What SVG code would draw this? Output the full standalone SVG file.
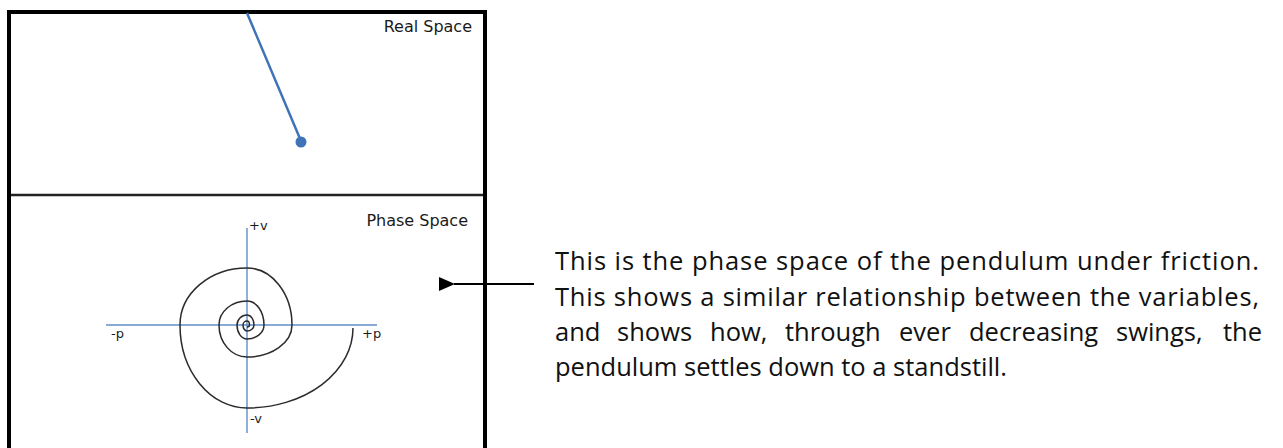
<svg xmlns="http://www.w3.org/2000/svg" width="1283" height="448" viewBox="0 0 1283 448">
<style>
.lbl{font-family:"DejaVu Sans",Verdana,sans-serif;font-size:16px;fill:#1a1a1a}
.ax{font-family:"DejaVu Sans",Verdana,sans-serif;font-size:13px;fill:#1a1a1a}
.body{font-family:"Open Sans","Noto Sans",sans-serif;font-size:25.5px;fill:#111}
.axis{stroke:#5f8fc6;stroke-width:1.4;fill:none}
</style>
<defs>
<marker id="ah" markerWidth="16" markerHeight="14" refX="1" refY="7" orient="auto" markerUnits="userSpaceOnUse">
<path d="M16,0 L0,7 L16,14 Z" fill="#000"/>
</marker>
</defs>
<rect width="1283" height="448" fill="#fff"/>
<g id="frame">
<rect x="9" y="12" width="476" height="460" fill="none" stroke="#000" stroke-width="4"/>
<line x1="11" y1="195" x2="483" y2="195" stroke="#222" stroke-width="2.5"/>
</g>
<g id="real-space">
<line x1="247" y1="13" x2="301" y2="141" stroke="#3f73b8" stroke-width="2.5"/>
<circle cx="301" cy="142" r="5.5" fill="#3f73b8"/>
<text class="lbl" x="472" y="32" text-anchor="end">Real Space</text>
</g>
<g id="phase-space">
<text class="lbl" x="468" y="226" text-anchor="end">Phase Space</text>
<line class="axis" x1="247" y1="228" x2="247" y2="433"/>
<line class="axis" x1="106" y1="325" x2="377" y2="325"/>
<text class="ax" x="249" y="230">+v</text>
<text class="ax" x="111" y="338">-p</text>
<text class="ax" x="362" y="338">+p</text>
<text class="ax" x="250" y="423">-v</text>
<path d="M353 328 A106 80 0 0 1 247 408 A67 83 0 0 1 180 325 A67 57 0 0 1 247 268 A45 57 0 0 1 292 325 A45 32 0 0 1 247 357 A28 32 0 0 1 219 325 A28 24 0 0 1 247 301 A17 24 0 0 1 264 325 A17 14 0 0 1 247 339 A10 14 0 0 1 237 325 A10 10 0 0 1 247 315 A7 10 0 0 1 254 325 A7 6 0 0 1 247 331 A4 6 0 0 1 243 325 A4 4 0 0 1 247 321 A2.5 4 0 0 1 249.5 325 A2.5 2 0 0 1 247 327" fill="none" stroke="#2b2b2b" stroke-width="1.5"/>
</g>
<g id="connectors">
<line x1="534" y1="284" x2="454" y2="284" stroke="#000" stroke-width="2" marker-end="url(#ah)"/>
</g>
<g id="caption">
<text class="body" x="555" y="270" textLength="704" lengthAdjust="spacing">This is the phase space of the pendulum under friction.</text>
<text class="body" x="555" y="305.5" textLength="704" lengthAdjust="spacing">This shows a similar relationship between the variables,</text>
<text class="body" y="341"><tspan x="555">and</tspan><tspan x="617">shows</tspan><tspan x="710">how,</tspan><tspan x="785">through</tspan><tspan x="899">ever</tspan><tspan x="969">decreasing</tspan><tspan x="1116">swings,</tspan><tspan x="1223">the</tspan></text>
<text class="body" x="555" y="376">pendulum settles down to a standstill.</text>
</g>
</svg>
